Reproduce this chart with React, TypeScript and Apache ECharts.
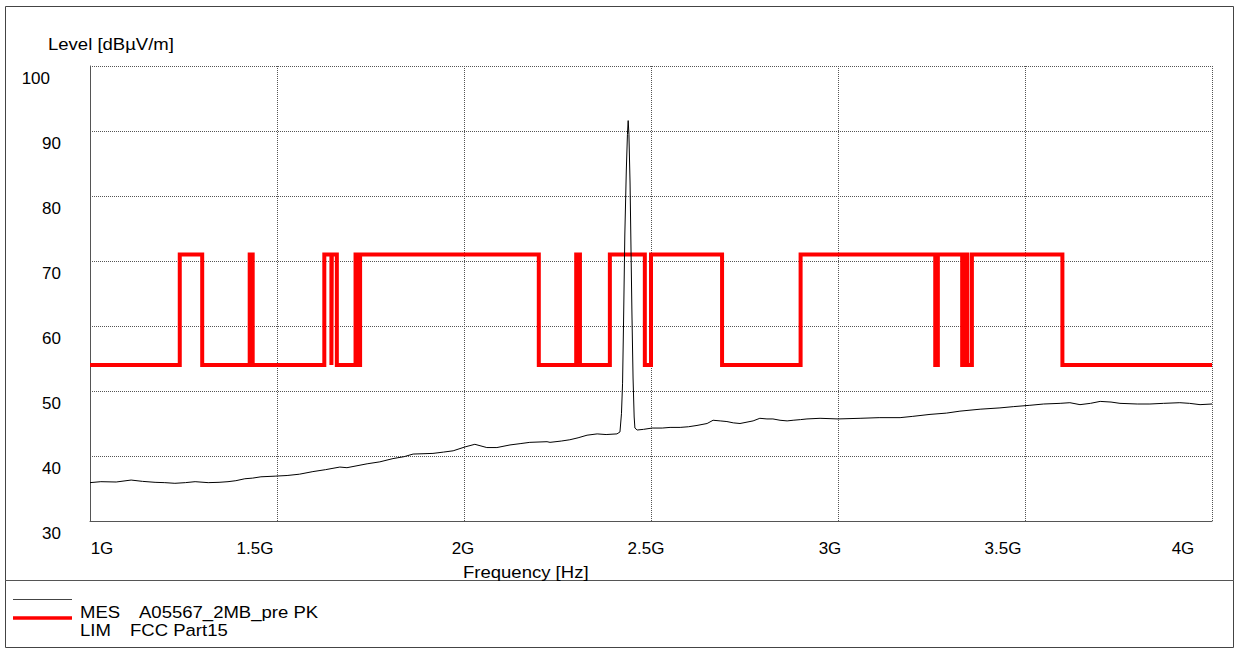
import React, { useEffect, useRef } from "react";
import * as echarts from "echarts";

// ---- axis ticks ----
const xTickValues = [1, 1.5, 2, 2.5, 3, 3.5, 4];
const xTickLabels = ["1G", "1.5G", "2G", "2.5G", "3G", "3.5G", "4G"];
const yTickValues = [30, 40, 50, 60, 70, 80, 90, 100];

// ---- MES A05567_2MB_pre PK (frequency in GHz, level in dBµV/m) ----
const measFreqGHz = [
  1.0, 1.029, 1.07, 1.11, 1.14, 1.174, 1.2, 1.227, 1.255, 1.281, 1.316, 1.345, 1.369, 1.39,
  1.414, 1.435, 1.457, 1.495, 1.527, 1.56, 1.596, 1.63, 1.668, 1.687, 1.741, 1.775, 1.81,
  1.84, 1.864, 1.917, 1.945, 1.971, 2.003, 2.029, 2.061, 2.088, 2.123, 2.15, 2.176, 2.222,
  2.23, 2.26, 2.283, 2.305, 2.329, 2.356, 2.38, 2.409, 2.417, 2.421, 2.424, 2.427, 2.43,
  2.434, 2.437, 2.439, 2.441, 2.444, 2.446, 2.449, 2.452, 2.455, 2.457, 2.463, 2.48, 2.503,
  2.53, 2.551, 2.578, 2.6, 2.623, 2.65, 2.666, 2.685, 2.703, 2.72, 2.738, 2.773, 2.791,
  2.81, 2.826, 2.845, 2.864, 2.88, 2.9, 2.917, 2.952, 3.0, 3.059, 3.11, 3.166, 3.2, 3.246,
  3.29, 3.326, 3.38, 3.433, 3.47, 3.513, 3.55, 3.594, 3.62, 3.647, 3.675, 3.701, 3.73,
  3.754, 3.8, 3.834, 3.87, 3.914, 3.94, 3.968, 4.0,
];
const measLevel = [
  35.9, 36.05, 36.0, 36.3, 36.1, 35.95, 35.9, 35.8, 35.9, 36.05, 35.9, 35.95, 36.05, 36.2,
  36.5, 36.6, 36.8, 36.9, 37.0, 37.2, 37.6, 37.9, 38.3, 38.2, 38.8, 39.1, 39.6,
  39.9, 40.3, 40.4, 40.6, 40.8, 41.4, 41.8, 41.3, 41.3, 41.7, 41.9, 42.1, 42.2,
  42.1, 42.3, 42.5, 42.8, 43.2, 43.4, 43.3, 43.4, 43.7, 46.5, 51.2, 62.0, 74.0,
  84.0, 89.5, 91.6, 89.5, 82.0, 74.0, 62.0, 52.0, 46.0, 44.3, 44.0, 44.1, 44.3,
  44.3, 44.4, 44.4, 44.5, 44.7, 45.0, 45.5, 45.4, 45.3, 45.1, 45.0, 45.4, 45.8,
  45.7, 45.7, 45.5, 45.4, 45.5, 45.6, 45.7, 45.8, 45.7, 45.8, 45.9, 45.9, 46.1, 46.4,
  46.6, 46.9, 47.2, 47.4, 47.6, 47.8, 48.0, 48.1, 48.2, 47.9, 48.1, 48.4, 48.3,
  48.1, 48.0, 48.0, 48.1, 48.2, 48.1, 47.9, 48.0,
];

// ---- LIM FCC Part15 (band edges in GHz and level of each band) ----
const limitEdgesGHz = [
  1.0, 1.24, 1.3, 1.427, 1.435, 1.6265, 1.6455, 1.6465, 1.66, 1.71, 1.7188, 1.7222, 2.2,
  2.3, 2.31, 2.39, 2.4835, 2.5, 2.69, 2.9, 3.26, 3.267, 3.332, 3.339, 3.3458, 3.358, 3.6, 4.0,
];
const limitLevels = [
  54, 71, 54, 71, 54, 71, 54, 71, 54, 71, 54, 71, 54, 71, 54, 71, 54, 71, 54, 71, 54, 71,
  54, 71, 54, 71, 54,
];

// ---- layout / style (not data) ----
const FONT = '"Liberation Sans", Arial, Helvetica, sans-serif';
const FS = 17;
const TEXT_SCALE_X = 1.09;
const xLabelShift = [12, -22, -1, -5, -8, -22, -29];

export default function App() {
  const ref = useRef<HTMLDivElement>(null);

  useEffect(() => {
    if (!ref.current) return;
    const chart = echarts.init(ref.current, undefined, { renderer: "svg" });

    const meas = measFreqGHz.map((f, i) => [f, measLevel[i]]);
    const lim: number[][] = [];
    for (let i = 0; i < limitLevels.length; i++) {
      lim.push([limitEdgesGHz[i], limitLevels[i]]);
      lim.push([limitEdgesGHz[i + 1], limitLevels[i]]);
    }

    const xRich: Record<string, any> = {};
    xLabelShift.forEach((d, i) => {
      xRich["x" + i] = {
        fontSize: FS,
        fontFamily: FONT,
        color: "#000",
        padding: d >= 0 ? [0, 0, 0, 2 * d] : [0, -2 * d, 0, 0],
      };
    });

    const textEl = (text: string, x: number, y: number) => ({
      type: "text",
      x,
      y,
      scaleX: TEXT_SCALE_X,
      silent: true,
      style: {
        text,
        fill: "#000",
        fontSize: FS,
        fontFamily: FONT,
        align: "left",
        verticalAlign: "middle",
      },
    });

    chart.setOption({
      animation: false,
      backgroundColor: "#fff",
      grid: { left: 90, top: 66, right: 25, bottom: 133, containLabel: false },
      xAxis: {
        type: "value",
        min: 1,
        max: 4,
        interval: 0.5,
        axisLine: { show: true, lineStyle: { color: "#555", width: 1 } },
        axisTick: { show: false },
        splitLine: {
          show: true,
          lineStyle: { color: "#555", type: [1, 1], width: 1 },
        },
        axisLabel: {
          show: true,
          margin: 19,
          showMinLabel: true,
          showMaxLabel: true,
          hideOverlap: false,
          formatter: (v: number) => {
            const i = xTickValues.findIndex((t) => Math.abs(t - v) < 1e-9);
            return i >= 0 ? `{x${i}|${xTickLabels[i]}}` : "";
          },
          rich: xRich,
        },
      },
      yAxis: {
        type: "value",
        min: 30,
        max: 100,
        interval: 10,
        axisLine: { show: true, lineStyle: { color: "#555", width: 1 } },
        axisTick: { show: false },
        splitLine: {
          show: true,
          lineStyle: { color: "#555", type: [1, 1], width: 1 },
        },
        axisLabel: {
          show: true,
          margin: 29,
          align: "right",
          verticalAlign: "middle",
          padding: [24, 0, 0, 0],
          showMinLabel: true,
          showMaxLabel: true,
          formatter: (v: number) =>
            yTickValues.includes(v) ? (v >= 100 ? `{w|${v}}` : `{n|${v}}`) : "",
          rich: {
            n: { fontSize: FS, fontFamily: FONT, color: "#000" },
            w: { fontSize: FS, fontFamily: FONT, color: "#000", padding: [0, 11, 0, 0] },
          },
        },
      },
      series: [
        {
          name: "LIM FCC Part15",
          type: "line",
          data: lim,
          showSymbol: false,
          symbol: "none",
          lineStyle: { color: "#ff0000", width: 4, join: "miter" },
          z: 2,
        },
        {
          name: "MES A05567_2MB_pre PK",
          type: "line",
          data: meas,
          showSymbol: false,
          symbol: "none",
          lineStyle: { color: "#000", width: 1 },
          z: 3,
        },
      ],
      graphic: [
        {
          type: "rect",
          shape: { x: 5.5, y: 6.5, width: 1228, height: 641 },
          style: { fill: "none", stroke: "#444", lineWidth: 1 },
          silent: true,
        },
        {
          type: "line",
          shape: { x1: 5, y1: 580.5, x2: 1234, y2: 580.5 },
          style: { stroke: "#555", lineWidth: 1 },
          silent: true,
        },
        textEl("Level [dBµV/m]", 48, 44),
        textEl("Frequency [Hz]", 463, 572),
        {
          type: "line",
          shape: { x1: 13, y1: 599.5, x2: 72, y2: 599.5 },
          style: { stroke: "#444", lineWidth: 1 },
          silent: true,
        },
        {
          type: "line",
          shape: { x1: 13, y1: 618, x2: 72, y2: 618 },
          style: { stroke: "#ff0000", lineWidth: 3.5 },
          silent: true,
        },
        textEl("MES", 80, 612),
        textEl("A05567_2MB_pre PK", 139, 612),
        textEl("LIM", 80, 630),
        textEl("FCC Part15", 130, 630),
      ],
    });

    return () => chart.dispose();
  }, []);

  return (
    <div
      ref={ref}
      style={{ position: "fixed", left: 0, top: 0, width: 1237, height: 654, background: "#fff" }}
    />
  );
}
